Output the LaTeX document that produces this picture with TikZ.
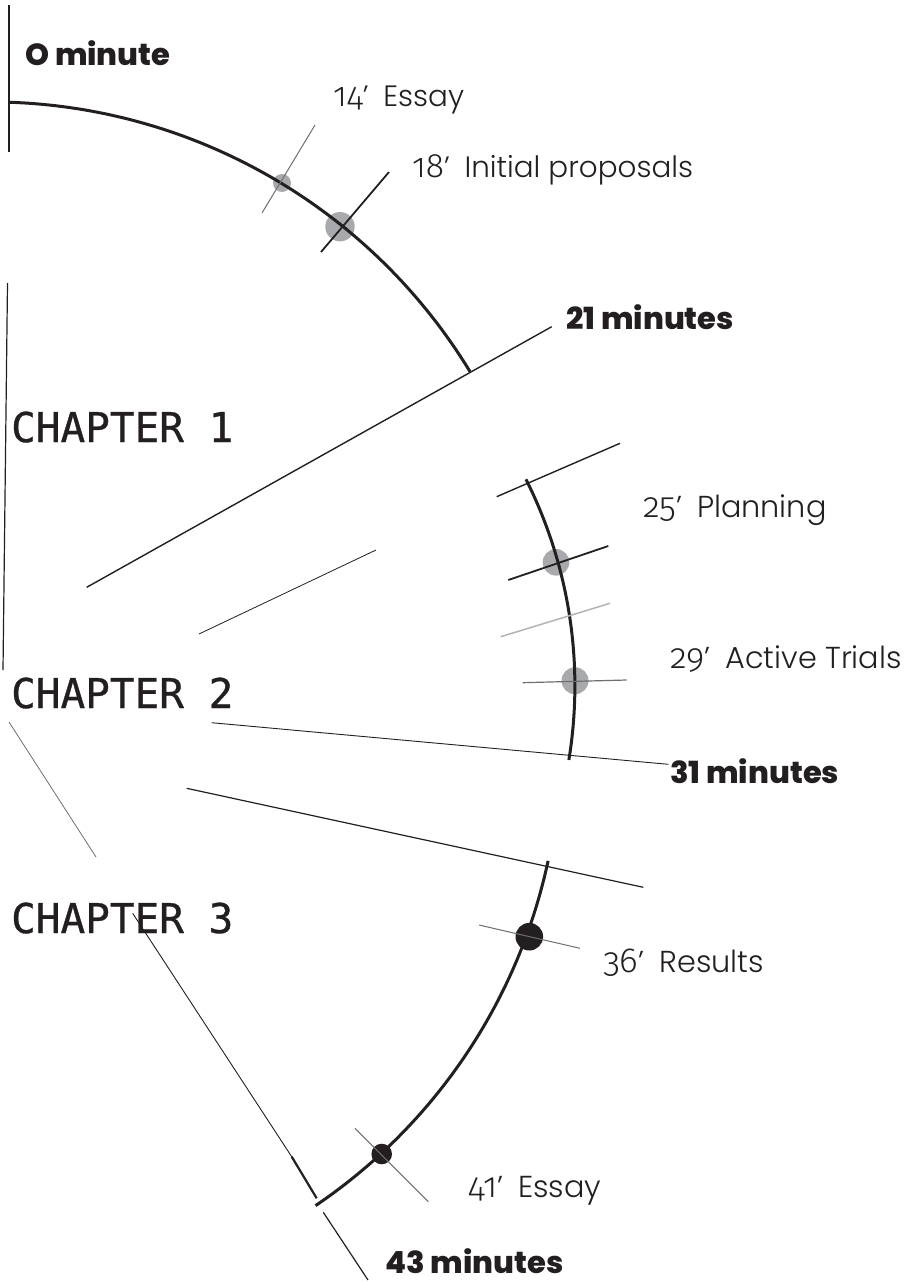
\documentclass[tikz,border=0pt]{standalone}
\usepackage{fontspec}
\IfFontExistsTF{Poppins Light}{\newfontfamily\lightfont{Poppins Light}}{\newfontfamily\lightfont{Poppins}}
\IfFontExistsTF{Fira Sans Light}
  {\newfontfamily\oldnum{Fira Sans Light}[Numbers=OldStyle, Scale=1.15]}
  {\newfontfamily\oldnum{Fira Sans}[Numbers=OldStyle, Scale=1.15]}
\IfFontExistsTF{Poppins ExtraBold}
  {\newfontfamily\heavyfont{Poppins ExtraBold}}
  {\newfontfamily\heavyfont{Poppins}[UprightFont=*-Bold]}
\newfontfamily\chapfont{DejaVu Sans Mono}[FakeBold=0.8]

\definecolor{ink}{HTML}{231F20}
\definecolor{dotgrey}{HTML}{A7A9AC}
\definecolor{tickgrey}{HTML}{6D6E71}
\definecolor{softline}{HTML}{B3B3B3}

% minute mark: old-style figures, a closing quote, then the event name
\newcommand{\minmark}[2]{{\oldnum #1}’\hspace{0.5em}#2}

\tikzset{
  arcline/.style={ink, line width=3pt},
  rule/.style={ink, line width=1.4pt},
  hair/.style={ink, line width=0.8pt},
  greytick/.style={tickgrey, line width=1pt},
  dotsoft/.style={fill=dotgrey, draw=none},
  dotdark/.style={fill=ink, draw=none},
  minlbl/.style={anchor=base west, inner sep=0pt, text=ink,
    font=\lightfont\fontsize{30.3}{32}\selectfont},
  minlbltop/.style={minlbl, font=\lightfont\fontsize{29.4}{31}\selectfont},
  boldlbl/.style={anchor=base west, inner sep=0pt, text=ink,
    font=\heavyfont\fontsize{30.5}{32}\selectfont},
  chaplbl/.style={anchor=base west, inner sep=0pt, text=ink,
    font=\chapfont\fontsize{41}{43}\selectfont},
}

\begin{document}
\begin{tikzpicture}[x=1pt, y=-1pt]
\useasboundingbox (0,0) rectangle (910,1282);

% ---------- chapter 1 ----------
\fill[dotsoft] (282,183) circle[radius=9];
\fill[dotsoft] (340,226.7) circle[radius=14.7];
\draw[rule] (9,5) -- (9,152);
\draw[arcline] plot[domain=-88.1:-31.3, samples=80]
  ({-9.7+561.5*cos(\x)}, {663.4+561.5*sin(\x)});
\draw[greytick] (262,213) -- (315,125);
\draw[ink, line width=1.8pt] (321,252) -- (389,172);
\draw[rule] (86.7,587.3) -- (551.7,326.7);
\draw[ink, line width=1.2pt] (7.5,283) -- (3,670);
\draw[hair] (199,634) -- (376,550);

\node[boldlbl] (m0) at (25,65) {O minute};
\node[minlbltop] (e14) at (333,106) {\minmark{14}{Essay}};
\node[minlbltop] (e18) at (412,177) {\minmark{18}{Initial proposals}};
\node[boldlbl] (m21) at (566,329) {21 minutes};
\node[chaplbl] (ch1) at (11,442) {CHAPTER 1};

% ---------- chapter 2 ----------
\fill[dotsoft] (556,562.3) circle[radius=13.3];
\fill[dotsoft] (575,680.7) circle[radius=13.5];
\draw[arcline] plot[domain=-26.65:9.27, samples=60]
  ({114.6+460.3*cos(\x)}, {685.8+460.3*sin(\x)});
\draw[rule] (496.7,496.7) -- (620,443.3);
\draw[ink, line width=1.8pt] (508.3,580) -- (608.3,546);
\draw[softline, line width=1.5pt] (500.7,636.7) -- (610,603.3);
\draw[tickgrey, line width=1.2pt] (522.7,682.7) -- (626.7,680);
\draw[ink, line width=0.9pt] (211.7,722.7) -- (668.3,764.3);
\draw[tickgrey, line width=0.8pt] (9,722) -- (96,857);

\node[minlbl] (e25) at (643,517) {\minmark{25}{Planning}};
\node[minlbl] (e29) at (670,668) {\minmark{29}{Active Trials}};
\node[boldlbl] (m31) at (670,783) {31 minutes};
\node[chaplbl] (ch2) at (11,708) {CHAPTER 2};

% ---------- chapter 3 ----------
\fill[dotdark] (529.3,936.7) circle[radius=13.8];
\fill[dotdark] (381.7,1154) circle[radius=10.3];
\draw[ink, line width=1.2pt] (186.7,788.3) -- (643.3,887.3);
\draw[arcline] plot[domain=12.1:55.9, samples=70]
  ({3+557.5*cos(\x)}, {744+557.5*sin(\x)});
\draw[greytick] (479,925) -- (580,948.3);
\draw[greytick] (355,1128.3) -- (428.3,1201.7);
\draw[ink, line width=0.9pt] (132.7,913.3) -- (291.7,1156.7);
\draw[ink, line width=2.2pt] (291.7,1156.7) -- (316.7,1198.3);
\draw[ink, line width=1.2pt] (323.3,1212.3) -- (368,1280);

\node[minlbl] (e36) at (603,972) {\minmark{36}{Results}};
\node[minlbl] (e41) at (468,1197) {\minmark{41}{Essay}};
\node[boldlbl] (m43) at (385,1273) {43 minutes};
\node[chaplbl] (ch3) at (11,933) {CHAPTER 3};
\end{tikzpicture}
\end{document}
